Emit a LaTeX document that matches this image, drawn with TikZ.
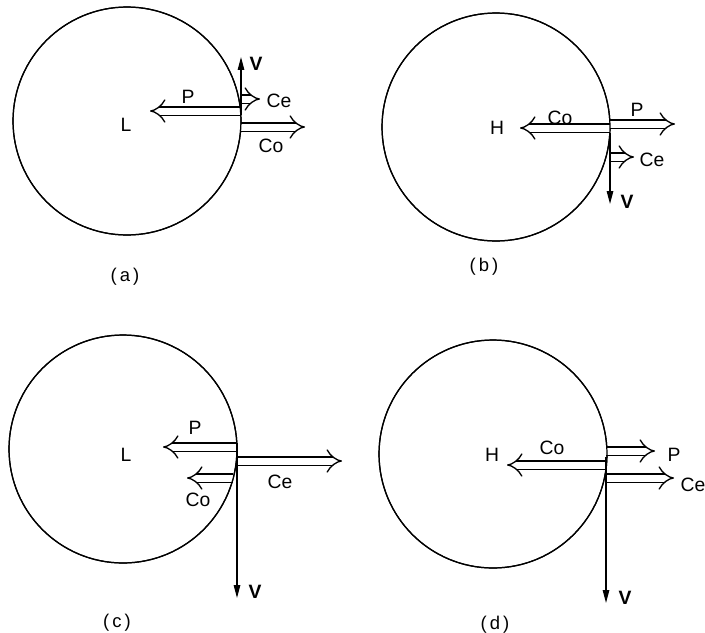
\documentclass[tikz,border=0pt]{standalone}
\usepackage{fontspec}
\setmainfont{Liberation Sans}
\usetikzlibrary{arrows.meta}
\tikzset{
  ball/.style   = {draw,circle,line width=0.7pt,minimum size=4.56cm,inner sep=0pt},
  rim/.style    = {draw,circle,line width=0.7pt,minimum size=4.56cm,inner sep=0pt},
  flux/.style   = {double,double distance=1.4mm,line width=0.75pt,-{Implies[scale=1.15]}},
  vel/.style    = {line width=0.75pt,-{Triangle[length=2.6mm,width=1.3mm]}},
  lbl/.style    = {font=\fontsize{11}{13}\selectfont,inner sep=1pt},
  vlbl/.style   = {lbl,font=\fontsize{11}{13}\selectfont\bfseries},
  sublbl/.style = {lbl,font=\fontsize{10.5}{13}\selectfont},
}

\begin{document}
\begin{tikzpicture}[x=0.02cm,y=-0.02cm]
  \useasboundingbox (0,0) rectangle (705,632);

  % (a)
  \node[ball] (ca) at (127,121) {};
  \node[lbl] (aL) at (126,125) {L};
  \coordinate (aV0) at (241,115);  \coordinate (aV1) at (241,57);
  \coordinate (aP0) at (241,111);  \coordinate (aP1) at (150,111);
  \coordinate (aE0) at (241,99);   \coordinate (aE1) at (260,99);
  \coordinate (aC0) at (241,127);  \coordinate (aC1) at (305,127);
  \draw[flux] (aP0) -- (aP1);
  \draw[flux] (aE0) -- (aE1);
  \draw[flux] (aC0) -- (aC1);
  \draw[vel] (aV0) -- (aV1);
  \node[rim] at (ca) {};
  \node[vlbl] (aVl) at (256,64) {V};
  \node[lbl] (aPl) at (188,97) {P};
  \node[lbl] (aEl) at (279,101) {Ce};
  \node[lbl] (aCl) at (271,146) {Co};
  \node[sublbl] (la) at (125,277) {(\,a\,)};

  % (b)
  \node[ball] (cb) at (496,127) {};
  \node[lbl] (bH) at (497,128) {H};
  \coordinate (bV0) at (610,133);  \coordinate (bV1) at (610,204);
  \coordinate (bC0) at (610,128);  \coordinate (bC1) at (520,128);
  \coordinate (bP0) at (610,124);  \coordinate (bP1) at (675,124);
  \coordinate (bE0) at (610,157);  \coordinate (bE1) at (634,157);
  \draw[flux] (bC0) -- (bC1);
  \draw[flux] (bP0) -- (bP1);
  \draw[flux] (bE0) -- (bE1);
  \draw[vel] (bV0) -- (bV1);
  \node[rim] at (cb) {};
  \node[vlbl] (bVl) at (627,202) {V};
  \node[lbl] (bCl) at (560,118) {Co};
  \node[lbl] (bPl) at (637,110) {P};
  \node[lbl] (bEl) at (652,160) {Ce};
  \node[sublbl] (lb) at (484,267) {(\,b\,)};

  % (c)
  \node[ball] (cc) at (123,449) {};
  \node[lbl] (cL) at (126,455) {L};
  \coordinate (cV0) at (237,443);  \coordinate (cV1) at (237,598);
  \coordinate (cP0) at (237,447);  \coordinate (cP1) at (163,447);
  \coordinate (cE0) at (237,461);  \coordinate (cE1) at (342,461);
  \coordinate (cC0) at (233,478);  \coordinate (cC1) at (187,478);
  \draw[flux] (cP0) -- (cP1);
  \draw[flux] (cE0) -- (cE1);
  \draw[flux] (cC0) -- (cC1);
  \draw[vel] (cV0) -- (cV1);
  \node[rim] at (cc) {};
  \node[vlbl] (cVl) at (255,592) {V};
  \node[lbl] (cPl) at (195,428) {P};
  \node[lbl] (cEl) at (280,482) {Ce};
  \node[lbl] (cCl) at (198,500) {Co};
  \node[sublbl] (lc) at (117,623) {(\,c\,)};

  % (d)
  \node[ball] (cd) at (493,454) {};
  \node[lbl] (dH) at (492,455) {H};
  \coordinate (dV0) at (606,457);  \coordinate (dV1) at (606,603);
  \coordinate (dC0) at (606,465);  \coordinate (dC1) at (507,465);
  \coordinate (dP0) at (606,451);  \coordinate (dP1) at (655,451);
  \coordinate (dE0) at (606,478);  \coordinate (dE1) at (674,478);
  \draw[flux] (dC0) -- (dC1);
  \draw[flux] (dP0) -- (dP1);
  \draw[flux] (dE0) -- (dE1);
  \draw[vel] (dV0) -- (dV1);
  \node[rim] at (cd) {};
  \node[vlbl] (dVl) at (625,598) {V};
  \node[lbl] (dCl) at (552,448) {Co};
  \node[lbl] (dPl) at (674,455) {P};
  \node[lbl] (dEl) at (693,485) {Ce};
  \node[sublbl] (ld) at (495,625) {(\,d\,)};
\end{tikzpicture}
\end{document}
